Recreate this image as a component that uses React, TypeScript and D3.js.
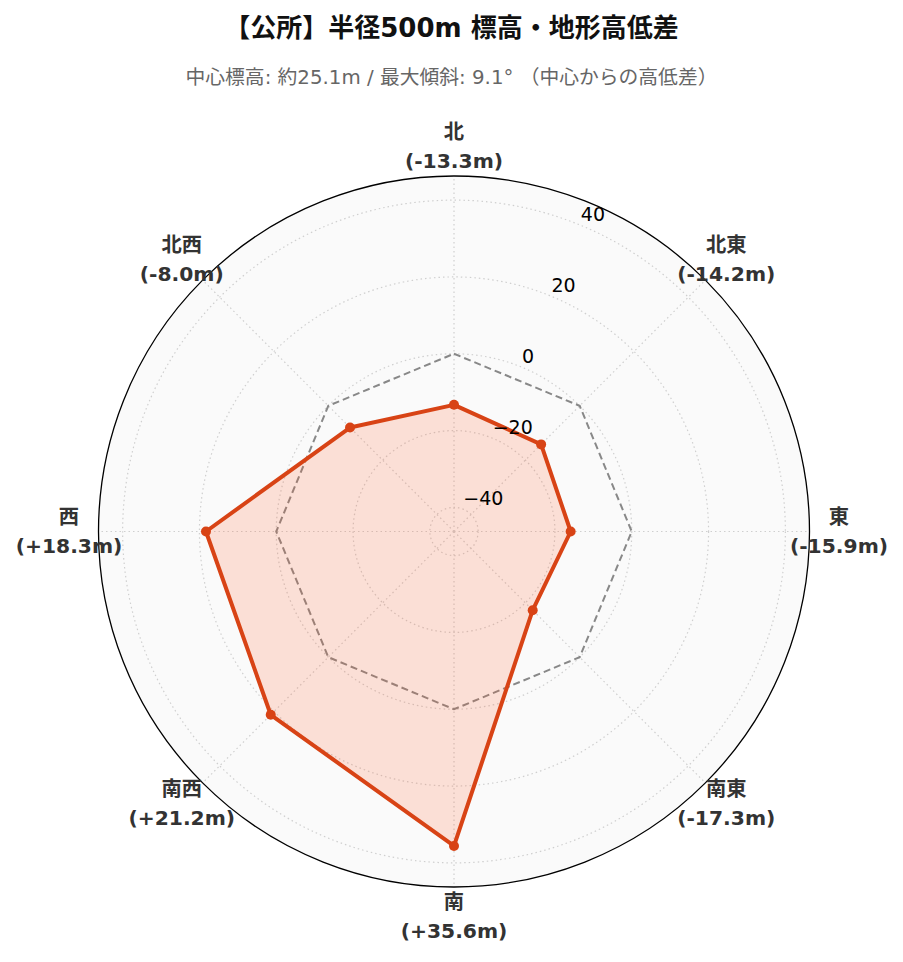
import React from "react";
import * as d3 from "d3";

const directions = ["北", "北東", "東", "南東", "南", "南西", "西", "北西"];
const diffs = [-13.3, -14.2, -15.9, -17.3, 35.6, 21.2, 18.3, -8.0];
const rTicks = [-40, -20, 0, 20, 40];
const title = "【公所】半径500m 標高・地形高低差";
const subtitle = "中心標高: 約25.1m / 最大傾斜: 9.1°  （中心からの高低差）";

const W = 903;
const H = 962;
const cx = 454;
const cy = 531.5;
const R = 355.5;
const FONT = "'DejaVu Sans', 'Noto Sans CJK JP', sans-serif";
const LINE = "#d84315";

function fmt(v: number) {
  return `(${v >= 0 ? "+" : "-"}${Math.abs(v).toFixed(1)}m)`;
}

export default function App() {
  const lim = d3.max(diffs.map(Math.abs))! * 1.3;
  const r = d3.scaleLinear().domain([-lim, lim]).range([0, R]);
  const ang = (i: number) => (i * 2 * Math.PI) / directions.length;
  const pt = (i: number, rad: number): [number, number] => [
    cx + rad * Math.sin(ang(i)),
    cy - rad * Math.cos(ang(i)),
  ];

  const radial = d3
    .lineRadial<number>()
    .angle((_, i) => ang(i))
    .radius((d) => r(d))
    .curve(d3.curveLinearClosed);

  const dataPath = radial(diffs) || "";
  const zeroPath = radial(diffs.map(() => 0)) || "";
  const labelAng = Math.PI / 8;

  return (
    <svg
      width={W}
      height={H}
      style={{ position: "absolute", left: 0, top: 0, display: "block" }}
      fontFamily={FONT}
    >
      <rect width={W} height={H} fill="#ffffff" />
      <text x={W / 2} y={37} textAnchor="middle" fontSize={26} fontWeight="bold" fill="#111">
        {title}
      </text>
      <text x={W / 2} y={84} textAnchor="middle" fontSize={19.8} fill="#666">
        {subtitle}
      </text>

      <circle cx={cx} cy={cy} r={R} fill="#fafafa" />
      {rTicks.map((t) => (
        <circle
          key={t}
          cx={cx}
          cy={cy}
          r={r(t)}
          fill="none"
          stroke="#cfcfcf"
          strokeWidth={1.2}
          strokeDasharray="1.5,3"
        />
      ))}
      {directions.map((d, i) => {
        const [x, y] = pt(i, R);
        return (
          <line
            key={d}
            x1={cx}
            y1={cy}
            x2={x}
            y2={y}
            stroke="#cfcfcf"
            strokeWidth={1.2}
            strokeDasharray="1.5,3"
          />
        );
      })}

      <g transform={`translate(${cx},${cy})`}>
        <path d={zeroPath} fill="none" stroke="#888" strokeWidth={2} strokeDasharray="7,4" />
        <path d={dataPath} fill="#ff5722" fillOpacity={0.17} stroke="none" />
        <path d={dataPath} fill="none" stroke={LINE} strokeWidth={4} strokeLinejoin="round" />
      </g>
      {diffs.map((v, i) => {
        const [x, y] = pt(i, r(v));
        return <circle key={i} cx={x} cy={y} r={5} fill={LINE} />;
      })}

      <circle cx={cx} cy={cy} r={R} fill="none" stroke="#000" strokeWidth={1.3} />

      {rTicks.map((t) => {
        const rad = r(t);
        const x = cx + rad * Math.sin(labelAng);
        const y = cy - rad * Math.cos(labelAng);
        return (
          <text key={t} x={x} y={y - 4} fontSize={19} fill="#000" textAnchor="start">
            {t < 0 ? `\u2212${Math.abs(t)}` : `${t}`}
          </text>
        );
      })}

      {directions.map((d, i) => {
        const [x, y] = pt(i, 385);
        return (
          <g key={d} fontWeight="bold" fill="#333" textAnchor="middle" fontSize={20.3}>
            <text x={x} y={y - 14.5} dominantBaseline="central">
              {d}
            </text>
            <text x={x} y={y + 14.5} dominantBaseline="central">
              {fmt(diffs[i])}
            </text>
          </g>
        );
      })}
    </svg>
  );
}
